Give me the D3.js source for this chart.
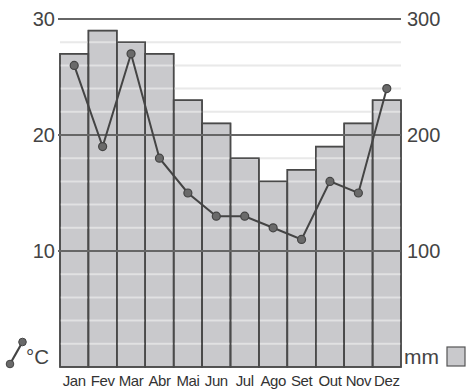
<!DOCTYPE html>
<html><head><meta charset="utf-8">
<script src="https://cdn.jsdelivr.net/npm/d3@7"></script>
<style>body{margin:0;background:#fff}svg{display:block}text{font-family:"Liberation Sans",Arial,sans-serif}</style>
</head><body><svg id="c" width="467" height="391"></svg>
<script>
const months = ["Jan","Fev","Mar","Abr","Mai","Jun","Jul","Ago","Set","Out","Nov","Dez"];
const precipitation = [270,290,280,270,230,210,180,160,170,190,210,230];
const temperature = [26,19,27,18,15,13,13,12,11,16,15,24];
const tempTicks = [10,20,30];
const rainTicks = [100,200,300];

const svg = d3.select("#c");
const pLeft = 60, pRight = 401, pTop = 19, pBottom = 367;
const x = d3.scaleBand().domain(months).range([pLeft, pRight]).padding(0);
const yT = d3.scaleLinear().domain([0,30]).range([pBottom, pTop]);
const yR = d3.scaleLinear().domain([0,300]).range([pBottom, pTop]);

// bars
svg.append("g").selectAll("rect").data(months).join("rect")
  .attr("x", d => x(d)).attr("width", x.bandwidth())
  .attr("y", (d,i) => yR(precipitation[i]))
  .attr("height", (d,i) => pBottom - yR(precipitation[i]))
  .attr("fill", "#c9c9cc").attr("stroke", "#4a4a4a").attr("stroke-width", 1.5);

// minor gridlines
const minor = d3.range(2, 30, 2).filter(v => v % 10 !== 0);
svg.append("g").selectAll("line").data(minor).join("line")
  .attr("x1", pLeft).attr("x2", pRight)
  .attr("y1", d => yT(d)).attr("y2", d => yT(d))
  .attr("stroke", "#e6e6e6").attr("stroke-width", 2).attr("opacity", 0.85);

// bar outlines redrawn over gridlines
svg.append("g").selectAll("rect").data(months).join("rect")
  .attr("x", d => x(d)).attr("width", x.bandwidth())
  .attr("y", (d,i) => yR(precipitation[i]))
  .attr("height", (d,i) => pBottom - yR(precipitation[i]))
  .attr("fill", "none").attr("stroke", "#4a4a4a").attr("stroke-width", 1.5);

// major gridlines
svg.append("g").selectAll("line").data(tempTicks).join("line")
  .attr("x1", pLeft - 2).attr("x2", pRight)
  .attr("y1", d => yT(d)).attr("y2", d => yT(d))
  .attr("stroke", "#666").attr("stroke-width", 2);

// left tick labels
svg.append("g").selectAll("text").data(tempTicks).join("text")
  .attr("x", 55).attr("y", d => yT(d) + 7).attr("text-anchor", "end")
  .attr("font-size", 20).attr("fill", "#444").text(d => d);
// right tick labels
svg.append("g").selectAll("text").data(rainTicks).join("text")
  .attr("x", 407).attr("y", d => yR(d) + 7).attr("text-anchor", "start")
  .attr("font-size", 20).attr("fill", "#444").text(d => d);

// temperature line
const cx = d => x(d) + x.bandwidth()/2;
const line = d3.line().x((d,i) => cx(months[i])).y(d => yT(d));
svg.append("path").datum(temperature).attr("d", line)
  .attr("fill", "none").attr("stroke", "#444").attr("stroke-width", 2);
svg.append("g").selectAll("circle").data(temperature).join("circle")
  .attr("cx", (d,i) => cx(months[i])).attr("cy", d => yT(d)).attr("r", 4)
  .attr("fill", "#6a6a6a").attr("stroke", "#444").attr("stroke-width", 1.2);

// month labels
svg.append("g").selectAll("text").data(months).join("text")
  .attr("x", d => cx(d)).attr("y", 386).attr("text-anchor", "middle")
  .style("font-family", "'Liberation Sans Narrow','Liberation Sans',Arial,sans-serif")
  .attr("font-size", 15).attr("letter-spacing", -0.4).attr("fill", "#333").text(d => d);

// legend temperature
const lg = svg.append("g");
lg.append("line").attr("x1", 10).attr("y1", 364).attr("x2", 22.5).attr("y2", 342)
  .attr("stroke", "#444").attr("stroke-width", 2.2);
lg.selectAll("circle").data([[10,364],[22.5,342]]).join("circle")
  .attr("cx", d => d[0]).attr("cy", d => d[1]).attr("r", 3.8)
  .attr("fill", "#6a6a6a").attr("stroke", "#444");
lg.append("text").attr("x", 26).attr("y", 364).attr("font-size", 20.5).attr("fill", "#444").text("°C");

// legend precipitation
svg.append("text").attr("x", 404).attr("y", 364).attr("font-size", 21).attr("fill", "#444").text("mm");
svg.append("rect").attr("x", 447).attr("y", 347).attr("width", 18).attr("height", 19)
  .attr("fill", "#c9c9cc").attr("stroke", "#555").attr("stroke-width", 1.2);
</script></body></html>
